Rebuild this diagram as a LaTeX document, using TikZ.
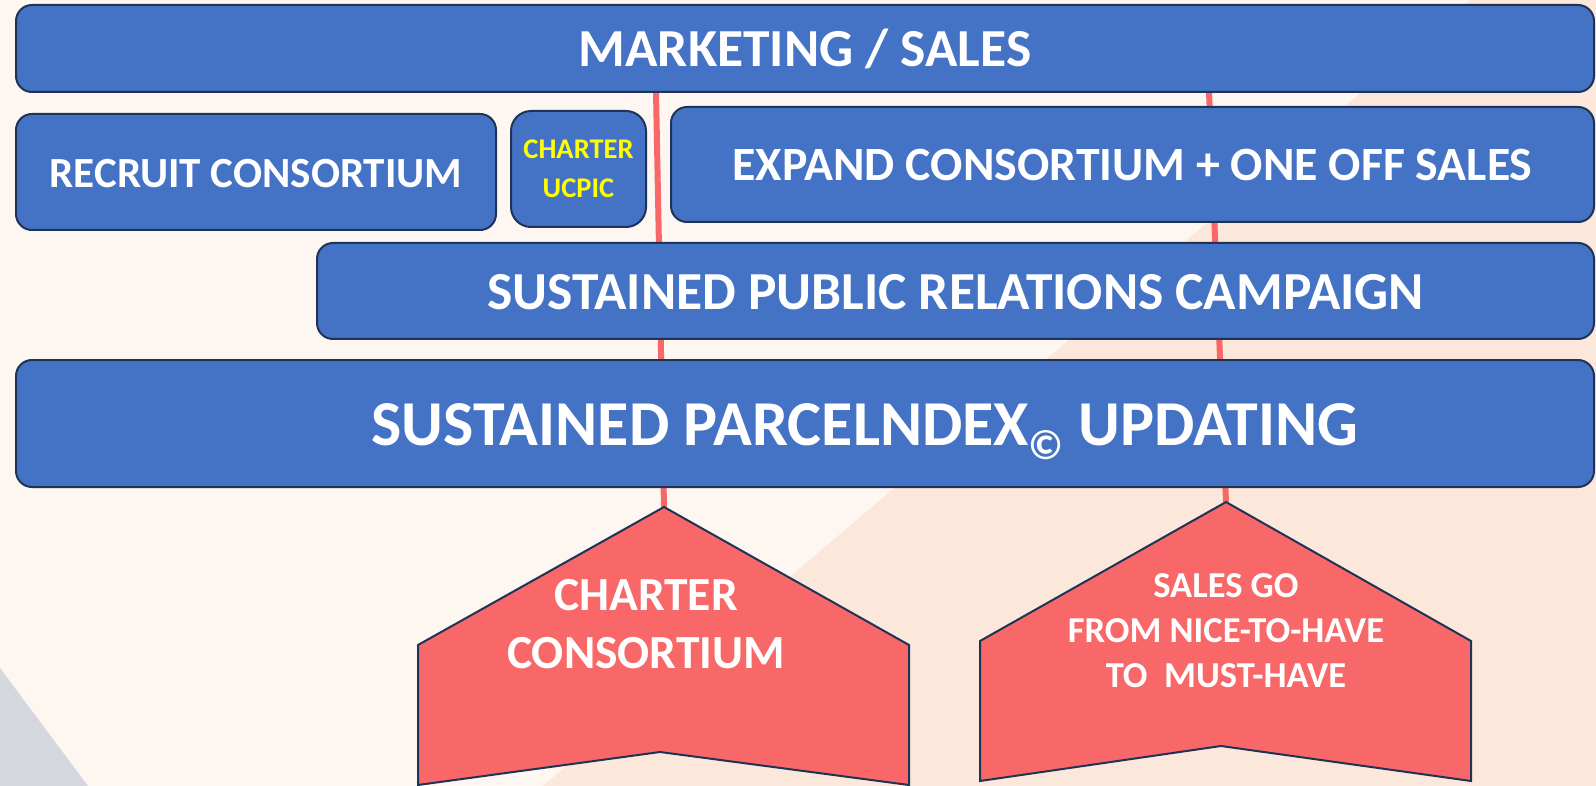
\documentclass[tikz,border=0pt]{standalone}
\usepackage{fontspec}
\setmainfont{Carlito}
\pgfdeclarelayer{back}
\pgfdeclarelayer{lines}
\pgfsetlayers{back,lines,main}
\definecolor{bgcream}{HTML}{FEF6F0}
\definecolor{bgpeach}{HTML}{FCE8DA}
\definecolor{bggrey}{HTML}{D5D7DF}
\definecolor{boxblue}{HTML}{4472C4}
\definecolor{navy}{HTML}{1F3356}
\definecolor{coral}{HTML}{F96868}
\definecolor{ylw}{HTML}{FFFF00}
\newcommand{\fsz}[2]{\bfseries\fontsize{#1}{#2}\selectfont}
\begin{document}
\begin{tikzpicture}[x=1pt,y=-1pt,
  box/.style={draw=navy, fill=boxblue, line width=2pt, rounded corners=16pt,
    inner sep=0pt, text=white},
  penta/.style={draw=navy, fill=coral, line width=2pt, line join=miter},
  ptext/.style={text=white, align=center, inner sep=0pt},
  redline/.style={draw=coral, line width=6pt}]
\useasboundingbox (0,0) rectangle (1596,786);
\begin{pgfonlayer}{back}
  \fill[bgcream] (0,0) rectangle (1596,786);
  \fill[bgpeach] (1470,0) -- (1596,0) -- (1596,786) -- (543,786) -- cycle;
  \fill[bggrey] (0,668) -- (88,786) -- (0,786) -- cycle;
\end{pgfonlayer}

% boxes
\node[box, minimum width=1578pt, minimum height=87pt, text height=37pt, text depth=0pt,
  font=\fsz{53.5}{60}] (ms) at (805,48.5) {MARKETING / SALES};
\node[box, minimum width=480pt, minimum height=116pt, text height=31pt, text depth=0pt,
  font=\fsz{43}{50}] (rc) at (256,172) {RECRUIT CONSORTIUM};
\node[box, rounded corners=20pt, minimum width=135pt, minimum height=116pt,
  text=ylw, align=center,
  font=\fsz{28.5}{38.5}] (cu) at (578.5,169) {CHARTER\\UCPIC};
\node[box, minimum width=923pt, minimum height=115pt, text height=32.5pt, text depth=0pt,
  font=\fsz{47.8}{55}] (ec) at (1132.5,164.5) {EXPAND CONSORTIUM + ONE OFF SALES};
\node[box, minimum width=1277pt, minimum height=96pt, text height=38pt, text depth=0pt,
  font=\fsz{53.5}{60}] (pr) at (955.5,291) {SUSTAINED PUBLIC RELATIONS CAMPAIGN};
\node[box, minimum width=1578pt, minimum height=127pt, text height=44.5pt, text depth=0pt,
  font=\fsz{64}{72}] (pu) at (805,423.5)
  {\hspace*{120pt}SUSTAINED PARCELNDEX\raisebox{-14pt}[0pt][0pt]{\fontsize{42}{42}\selectfont ©} UPDATING};

% pentagons
\path[penta] (664,507) -- (909,645) -- (909,785) -- (660,752) -- (418,785) -- (418,645) -- cycle;
\coordinate (p1apex) at (664,507);
\node[ptext, font=\fsz{47.5}{58}] (cc) at (646,624) {CHARTER\\CONSORTIUM};

\path[penta] (1226,502) -- (1471,641) -- (1471,781) -- (1221,746) -- (980,781) -- (980,641) -- cycle;
\coordinate (p2apex) at (1226,502);
\node[ptext, font=\fsz{36.5}{45}] (sg) at (1226,631)
  {SALES GO\\FROM NICE-TO-HAVE\\TO~~MUST-HAVE};

% red connectors
\coordinate (l1top) at (656,92);
\coordinate (l2top) at (1209,92);
\begin{pgfonlayer}{lines}
  \draw[redline] (l1top) -- (p1apex);
  \draw[redline] (l2top) -- (p2apex);
\end{pgfonlayer}
\end{tikzpicture}
\end{document}
